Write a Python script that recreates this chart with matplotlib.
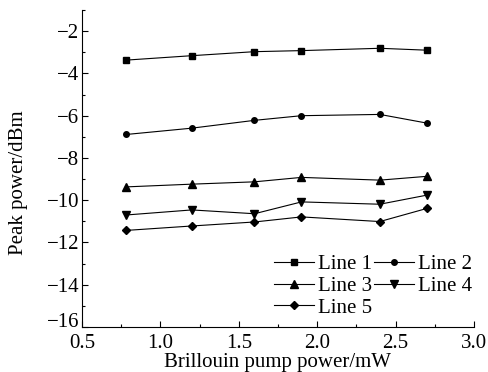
import matplotlib
matplotlib.use('Agg')
import matplotlib.pyplot as plt
import matplotlib.transforms as mtransforms
from matplotlib.ticker import MultipleLocator

plt.rcParams['font.family'] = 'Liberation Serif'
plt.rcParams['font.size'] = 15

pump = [0.78, 1.2, 1.6, 1.9, 2.4, 2.7]
line1 = [-3.37, -3.16, -2.97, -2.92, -2.81, -2.90]
line2 = [-6.89, -6.59, -6.22, -6.00, -5.94, -6.35]
line3 = [-9.37, -9.24, -9.13, -8.92, -9.05, -8.87]
line4 = [-10.70, -10.46, -10.64, -10.08, -10.19, -9.76]
line5 = [-11.43, -11.22, -11.03, -10.79, -11.01, -10.39]

labels = ['Line 1', 'Line 2', 'Line 3', 'Line 4', 'Line 5']
series = [line1, line2, line3, line4, line5]
markers = ['s', 'o', '^', 'v', 'D']
msizes = [4.5, 4, 5.5, 5.5, 4]

fig = plt.figure(figsize=(4.89, 3.72), dpi=100)
ax = fig.add_axes([0.168, 0.121, 0.801, 0.852])

handles = []
for ys, lab, m, ms in zip(series, labels, markers, msizes):
    h, = ax.plot(pump, ys, color='black', lw=0.8, marker=m, markersize=ms, label=lab)
    handles.append(h)

ax.set_xlim(0.5, 3.0)
ax.set_ylim(-16, -1)
ax.xaxis.set_major_locator(MultipleLocator(0.5))
ax.xaxis.set_minor_locator(MultipleLocator(0.25))
ax.yaxis.set_major_locator(MultipleLocator(2))
ax.yaxis.set_minor_locator(MultipleLocator(1))
ax.tick_params(which='both', direction='in', top=False, right=False, width=0.8)
ax.tick_params(which='major', length=4)
ax.tick_params(which='minor', length=2)
ax.tick_params(axis='y', pad=2)
ax.tick_params(axis='x', pad=5)
ax.spines['top'].set_visible(False)
ax.spines['right'].set_visible(False)
ax.set_yticks(range(-16, -1, 2))
ax.set_yticklabels([str(v).replace('-', '\u2212') for v in range(-16, -1, 2)])

# lift the bottom y label a little, as in the original, so it clears "0.5"
lowest = ax.get_yticklabels()[0]
lowest.set_transform(lowest.get_transform() +
                     mtransforms.ScaledTranslation(0, 5 / 72, fig.dpi_scale_trans))

ax.set_xlabel('Brillouin pump power/mW', labelpad=0)
ax.set_ylabel('Peak power/dBm')
ax.yaxis.set_label_coords(-0.138, 0.454)

# row-major legend order
order = [0, 2, 4, 1, 3]
ax.legend([handles[i] for i in order], [labels[i] for i in order],
          loc='upper left', bbox_to_anchor=(0.49, 0.228), ncol=2, frameon=False,
          handlelength=1.9, handletextpad=0.2, columnspacing=0.1, labelspacing=0.1,
          borderaxespad=0, borderpad=0)

fig.savefig('out.png', dpi=100)
